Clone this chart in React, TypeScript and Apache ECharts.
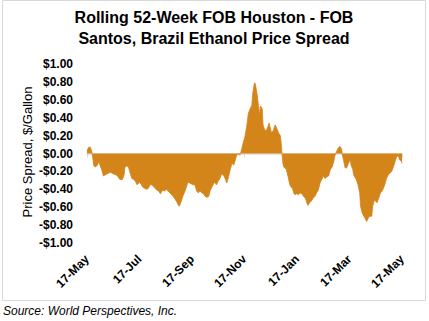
import React, { useEffect, useRef } from "react";
import * as echarts from "echarts";

const tickLabels = ["17-May", "17-Jul", "17-Sep", "17-Nov", "17-Jan", "17-Mar", "17-May"];

// day offset from the first 17-May and spread in $/gallon
const days = [
  0, 2, 4, 5, 6, 7, 8, 10, 12, 14, 15, 17, 19, 21, 23, 27, 31, 34, 36, 38, 41, 43, 44, 46, 48, 50,
  52, 54, 56, 58, 60, 61, 63, 65, 67, 69, 71, 73, 75, 77, 79, 81, 83, 85, 87, 88, 90, 92, 94, 96,
  98, 100, 102, 104, 106, 107, 109, 111, 114, 116, 117, 119, 121, 123, 125, 127, 129, 131, 133,
  135, 137, 139, 141, 143, 145, 146, 148, 150, 152, 154, 156, 158, 160, 162, 164, 166, 168, 170,
  172, 173, 175, 177, 178, 179, 181, 183, 185, 187, 189, 191, 192, 194, 195, 197, 199, 200, 201,
  203, 204, 206, 208, 210, 211, 213, 214, 216, 218, 220, 222, 224, 225, 226, 227, 228, 229, 231,
  233, 235, 236, 238, 240, 241, 243, 245, 247, 249, 251, 253, 255, 256, 258, 260, 262, 264, 266,
  268, 270, 272, 274, 276, 278, 280, 282, 284, 286, 287, 289, 291, 293, 295, 296, 298, 299, 301,
  303, 305, 306, 308, 309, 312, 314, 316, 317, 319, 322, 324, 326, 328, 330, 331, 333, 335, 336,
  338, 340, 342, 343, 345, 347, 349, 351, 353, 355, 357, 359, 361, 362, 364, 365,
];

const spread = [
  0.03, 0.07, 0.07, 0.04, 0.0, -0.07, -0.14, -0.15, -0.13, -0.09, -0.13, -0.18, -0.25, -0.24,
  -0.23, -0.21, -0.23, -0.24, -0.26, -0.29, -0.29, -0.24, -0.15, -0.14, -0.15, -0.22, -0.28,
  -0.29, -0.31, -0.35, -0.33, -0.32, -0.35, -0.38, -0.39, -0.4, -0.39, -0.35, -0.35, -0.37, -0.39,
  -0.41, -0.42, -0.45, -0.42, -0.41, -0.42, -0.4, -0.42, -0.44, -0.46, -0.48, -0.51, -0.54, -0.58,
  -0.59, -0.54, -0.48, -0.41, -0.35, -0.32, -0.33, -0.34, -0.35, -0.35, -0.42, -0.44, -0.42,
  -0.44, -0.45, -0.48, -0.49, -0.48, -0.41, -0.37, -0.35, -0.32, -0.35, -0.31, -0.28, -0.23,
  -0.24, -0.28, -0.33, -0.26, -0.18, -0.11, -0.13, -0.07, -0.03, 0.0, -0.02, 0.0, 0.04, 0.12,
  0.19, 0.3, 0.45, 0.5, 0.54, 0.67, 0.79, 0.78, 0.67, 0.51, 0.43, 0.53, 0.5, 0.32, 0.26, 0.26,
  0.31, 0.34, 0.26, 0.23, 0.26, 0.32, 0.28, 0.23, 0.2, 0.12, 0.0, -0.11, -0.15, -0.16, -0.18,
  -0.26, -0.35, -0.37, -0.39, -0.45, -0.46, -0.45, -0.46, -0.44, -0.45, -0.48, -0.5, -0.56,
  -0.58, -0.55, -0.53, -0.5, -0.48, -0.44, -0.41, -0.33, -0.29, -0.25, -0.28, -0.26, -0.25,
  -0.18, -0.15, -0.09, -0.03, 0.02, 0.06, 0.08, 0.05, -0.02, -0.11, -0.16, -0.16, -0.11, -0.07,
  -0.13, -0.18, -0.24, -0.29, -0.35, -0.44, -0.59, -0.67, -0.72, -0.76, -0.72, -0.7, -0.7, -0.59,
  -0.52, -0.54, -0.55, -0.5, -0.44, -0.42, -0.4, -0.35, -0.28, -0.24, -0.22, -0.2, -0.15, -0.09,
  -0.03, -0.03, -0.07, -0.08, -0.11,
];

const TOTAL_DAYS = 365;
const STEP = TOTAL_DAYS / 6;
const FONT = "Arial, 'Liberation Sans', sans-serif";
const ORANGE = "#D4851A";

export default function App() {
  const ref = useRef<HTMLDivElement>(null);

  useEffect(() => {
    if (!ref.current) return;
    const chart = echarts.init(ref.current, undefined, { renderer: "svg" });
    const data = days.map((d, i) => [d, spread[i]]);
    chart.setOption({
      animation: false,
      backgroundColor: "#ffffff",
      grid: { left: 87, right: 27, top: 64, bottom: 78 },
      graphic: [
        {
          type: "rect",
          shape: { x: 2.5, y: 0.5, width: 423, height: 300 },
          style: { fill: "none", stroke: "#d9d9d9", lineWidth: 1 },
          silent: true,
        },
        {
          type: "text",
          x: 214,
          y: 7,
          style: {
            text: "Rolling 52-Week FOB Houston - FOB\nSantos, Brazil Ethanol Price Spread",
            font: `bold 16px ${FONT}`,
            fill: "#000",
            align: "center",
            verticalAlign: "top",
            lineHeight: 21,
          },
        },
        {
          type: "text",
          x: 27,
          y: 152,
          rotation: Math.PI / 2,
          style: {
            text: "Price Spread, $/Gallon",
            font: `13px ${FONT}`,
            fill: "#000",
            align: "center",
            verticalAlign: "middle",
          },
        },
        {
          type: "text",
          x: 3,
          y: 311,
          style: {
            text: "Source: World Perspectives, Inc.",
            font: `italic 12px ${FONT}`,
            fill: "#000",
            align: "left",
            verticalAlign: "middle",
          },
        },
      ],
      xAxis: [
        {
          type: "value",
          min: 0,
          max: TOTAL_DAYS,
          interval: STEP,
          axisLine: { show: false, onZero: false },
          axisTick: { show: false },
          splitLine: { show: false },
          axisLabel: {
            rotate: 45,
            margin: 14,
            fontFamily: FONT,
            fontSize: 12,
            fontWeight: "bold",
            color: "#000",
            formatter: (v: number) => tickLabels[Math.round(v / STEP)] ?? "",
          },
        },
        {
          type: "value",
          position: "bottom",
          min: 0,
          max: TOTAL_DAYS,
          interval: STEP,
          axisLine: { show: true, onZero: true, lineStyle: { color: "#d9d9d9", width: 1.5 } },
          axisTick: { show: true, inside: false, length: 4, lineStyle: { color: "#d9d9d9", width: 1 } },
          axisLabel: { show: false },
          splitLine: { show: false },
        },
      ],
      yAxis: {
        type: "value",
        min: -1,
        max: 1,
        interval: 0.2,
        axisLine: { show: false },
        axisTick: { show: false },
        splitLine: { show: false },
        axisLabel: {
          margin: 14,
          fontFamily: FONT,
          fontSize: 12,
          fontWeight: "bold",
          color: "#000",
          formatter: (v: number) => {
            const r = Math.round(v * 100) / 100;
            return (r < 0 ? "-$" : "$") + Math.abs(r).toFixed(2);
          },
        },
      },
      series: [
        {
          type: "line",
          xAxisIndex: 0,
          data,
          showSymbol: false,
          lineStyle: { color: ORANGE, width: 0.8 },
          itemStyle: { color: ORANGE },
          areaStyle: { color: ORANGE, opacity: 1, origin: 0 },
          z: 1,
        },
      ],
    });
    return () => chart.dispose();
  }, []);

  return (
    <div
      ref={ref}
      style={{ position: "fixed", left: 0, top: 0, width: 429, height: 321 }}
    />
  );
}
